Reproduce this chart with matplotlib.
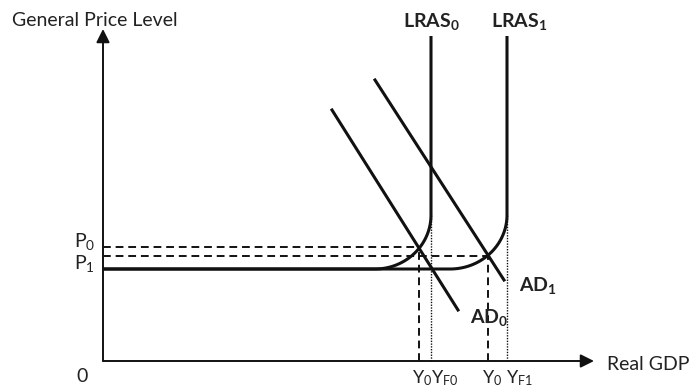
import numpy as np
import matplotlib.pyplot as plt

plt.rcParams['font.family'] = ['Lato', 'DejaVu Sans']
plt.rcParams['mathtext.default'] = 'regular'

# Diagram values (origin at the axes corner, 1 unit = 1 pixel)
as_floor = 92           # flat part of the short-run curve
corner_start = [272, 347]  # where each curve starts bending upward
corner_top = 146        # where each curve becomes vertical
lras_x = [328, 404]     # LRAS0, LRAS1
lras_top = 325
price_levels = [114, 105]      # P0, P1
output_levels = [316, 385]     # Y0 for each equilibrium
ad0 = ([229, 355], [251, 51])
ad1 = ([272, 401], [281, 81])
x_labels = ["Y$_0$", "Y$_{F0}$", "Y$_0$", "Y$_{F1}$"]
x_label_left = [309, 328, 379, 403]

ink = "#111111"
fs = 14

fig = plt.figure(figsize=(6.9, 3.9), dpi=100)
ax = fig.add_axes([0, 0, 1, 1])
ax.set_xlim(-103, 587)
ax.set_ylim(-29, 361)
ax.axis("off")

# axes with arrow heads
ax.annotate("", xy=(0, 332), xytext=(0, 0),
            arrowprops=dict(arrowstyle="-|>", lw=1.4, color=ink, mutation_scale=20, shrinkA=0, shrinkB=0))
ax.annotate("", xy=(491, 0), xytext=(0, 0),
            arrowprops=dict(arrowstyle="-|>", lw=1.4, color=ink, mutation_scale=20, shrinkA=0, shrinkB=0))

# aggregate supply curves: flat, rounded corner, then vertical LRAS
t = np.linspace(0, np.pi / 2, 60)
for x0, xv in zip(corner_start, lras_x):
    rx = xv - x0
    ry = corner_top - as_floor
    cx = x0 + rx * np.sin(t)
    cy = corner_top - ry * np.cos(t)
    xs = np.concatenate([[0], cx, [xv]])
    ys = np.concatenate([[as_floor], cy, [lras_top]])
    ax.plot(xs, ys, color=ink, lw=2.2, solid_capstyle="butt")

# aggregate demand
ax.plot(*ad0, color=ink, lw=2.2)
ax.plot(*ad1, color=ink, lw=2.2)

# guide lines to equilibria
for p, y in zip(price_levels, output_levels):
    ax.plot([0, y], [p, p], color=ink, lw=1.4, ls=(0, (4, 2.5)))
    ax.plot([y, y], [0, p], color=ink, lw=1.4, ls=(0, (4, 2.5)))
for xv in lras_x:
    ax.plot([xv, xv], [0, corner_top], color=ink, lw=1.0, ls=(0, (1, 1)))

# labels
tc = "#222222"
ax.text(-91, 341, "General Price Level", fontsize=fs, color=tc, va="center", ha="left")
ax.text(504, -4, "Real GDP", fontsize=fs, color=tc, va="center", ha="left")
ax.text(-21, -16, "0", fontsize=fs, color=tc, va="center", ha="center")
ax.text(-8, 119, "P$_0$", fontsize=fs, color=tc, va="center", ha="right")
ax.text(-8, 98, "P$_1$", fontsize=fs, color=tc, va="center", ha="right")
for lab, xp in zip(x_labels, x_label_left):
    ax.text(xp, -17, lab, fontsize=13, color=tc, va="center", ha="left")
ax.text(lras_x[0], 339, "LRAS$_0$", fontsize=fs, color=tc, fontweight="bold", va="center", ha="center")
ax.text(lras_x[1] + 12, 339, "LRAS$_1$", fontsize=fs, color=tc, fontweight="bold", va="center", ha="center")
ax.text(367, 44, "AD$_0$", fontsize=fs, color=tc, fontweight="bold", va="center", ha="left")
ax.text(416, 76, "AD$_1$", fontsize=fs, color=tc, fontweight="bold", va="center", ha="left")

fig.savefig("out.png", dpi=100)
